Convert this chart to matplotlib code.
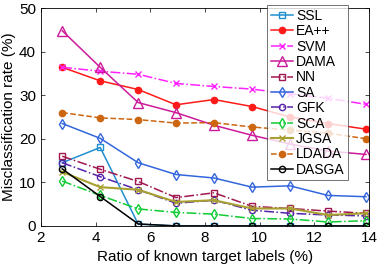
import matplotlib.pyplot as plt

x = [2.78, 4.17, 5.56, 6.94, 8.33, 9.72, 11.11, 12.5, 13.89]

ssl = [14.5, 18.0, 0.4, 0, 0, 0, 0, 0, 0]
ea = [36.4, 33.3, 31.3, 27.8, 29.0, 27.4, 25.0, 23.5, 22.2]
svm = [36.4, 35.5, 34.8, 32.7, 32.0, 31.4, 30.3, 29.3, 27.9]
dama = [44.8, 36.4, 28.3, 26.0, 23.1, 20.8, 18.8, 17.2, 16.4]
nn = [16.0, 13.0, 10.2, 6.5, 7.6, 4.5, 4.0, 3.4, 2.9]
sa = [23.5, 20.1, 14.5, 11.8, 11.0, 8.9, 9.2, 7.0, 6.7]
gfk = [14.5, 11.3, 8.3, 5.2, 5.9, 3.6, 2.9, 2.5, 2.3]
sca = [10.3, 7.0, 3.9, 3.1, 2.7, 1.7, 1.6, 0.9, 1.2]
jgsa = [12.4, 8.9, 8.3, 5.5, 5.9, 4.0, 4.0, 2.5, 2.9]
ldada = [26.0, 24.8, 24.4, 23.6, 23.7, 22.7, 22.0, 21.3, 20.0]
dasga = [13.1, 6.75, 0.45, 0, 0, 0, 0, 0, 0]

plt.rcParams['font.family'] = ['Liberation Sans', 'DejaVu Sans']
fig = plt.figure(figsize=(3.82, 2.68), dpi=100)
ax = fig.add_axes([0.107, 0.157, 0.859, 0.813])

ms = 4.5
lw = 1.1
ax.plot(x, ssl, '-', color='#1f8fd0', marker='s', mfc='none', ms=ms, lw=lw, label='SSL')
ax.plot(x, ea, '-', color='#ff1a1a', marker='o', ms=ms, lw=lw, label='EA++')
ax.plot(x, svm, '-.', color='#ff22ff', marker='x', ms=ms, lw=lw, label='SVM')
ax.plot(x, dama, '-', color='#cc1a99', marker='^', mfc='none', ms=6.5, lw=lw, label='DAMA')
ax.plot(x, nn, '-.', color='#a01850', marker='s', mfc='none', ms=ms, lw=lw, label='NN')
ax.plot(x, sa, '-', color='#3366dd', marker='d', mfc='none', ms=5.5, lw=lw, label='SA')
ax.plot(x, gfk, '-.', color='#5522aa', marker='o', mfc='none', ms=ms, lw=lw, label='GFK')
ax.plot(x, sca, '-.', color='#11cc33', marker='d', mfc='none', ms=5.5, lw=lw, label='SCA')
ax.plot(x, jgsa, '-', color='#a8a030', marker='x', ms=ms, lw=1.5, label='JGSA')
ax.plot(x, ldada, '--', color='#cc6611', marker='o', ms=ms, lw=lw, label='LDADA')
ax.plot(x, dasga, '-', color='black', marker='o', mfc='none', ms=ms, lw=lw, label='DASGA')

ax.set_xlim(2, 14)
ax.set_ylim(0, 50)
ax.set_xticks([2, 4, 6, 8, 10, 12, 14])
ax.set_yticks([0, 10, 20, 30, 40, 50])
ax.tick_params(direction='in', top=True, right=True, labelsize=11, length=3, width=0.5)
for s in ax.spines.values():
    s.set_linewidth(0.6)
ax.set_xlabel('Ratio of known target labels (%)', fontsize=11)
ax.set_ylabel('Misclassification rate (%)', fontsize=11, labelpad=2)

leg = ax.legend(loc='upper right', bbox_to_anchor=(0.937, 1.012), fontsize=10,
                frameon=True, fancybox=False, edgecolor='#333333',
                handlelength=1.6, handletextpad=0.25, labelspacing=0.1,
                borderpad=0.25, borderaxespad=0)
leg.get_frame().set_linewidth(0.6)

plt.savefig('out.png', dpi=100)
